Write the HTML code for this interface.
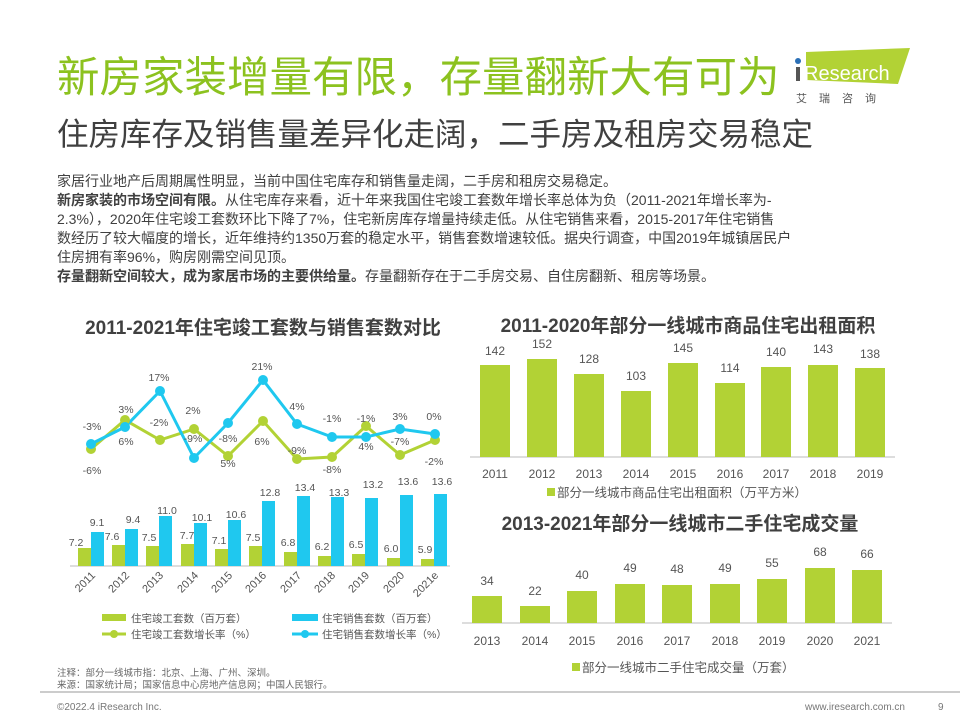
<!DOCTYPE html>
<html><head><meta charset="utf-8"><style>
body{margin:0;width:960px;height:720px;background:#fff;overflow:hidden}
svg{display:block;font-family:"Liberation Sans","Noto Sans CJK SC",sans-serif}
</style></head><body>
<svg width="960" height="720" viewBox="0 0 960 720" xmlns="http://www.w3.org/2000/svg">
<text x="57" y="92" font-size="42.5" fill="#8cc21f">新房家装增量有限，存量翻新大有可为</text>
<text x="57" y="145" font-size="31.5" fill="#404040">住房库存及销售量差异化走阔，二手房及租房交易稳定</text>
<!-- logo -->
<polygon points="806,52 910,48 898,84 806,80" fill="#b2d235"/>
<circle cx="798" cy="61" r="3" fill="#2a6fb6"/>
<rect x="796" y="67" width="4" height="14" fill="#555"/>
<text x="804" y="80" font-size="20" fill="#fff">Research</text>
<text x="796" y="102" font-size="11" fill="#555" letter-spacing="12">艾瑞咨询</text>
<!-- paragraph -->
<g font-size="14" fill="#404040">
<text x="57" y="186">家居行业地产后周期属性明显，当前中国住宅库存和销售量走阔，二手房和租房交易稳定。</text>
<text x="57" y="205"><tspan font-weight="bold">新房家装的市场空间有限。</tspan>从住宅库存来看，近十年来我国住宅竣工套数年增长率总体为负（2011-2021年增长率为-</text>
<text x="57" y="224">2.3%），2020年住宅竣工套数环比下降了7%，住宅新房库存增量持续走低。从住宅销售来看，2015-2017年住宅销售</text>
<text x="57" y="243">数经历了较大幅度的增长，近年维持约1350万套的稳定水平，销售套数增速较低。据央行调查，中国2019年城镇居民户</text>
<text x="57" y="262">住房拥有率96%，购房刚需空间见顶。</text>
<text x="57" y="281"><tspan font-weight="bold">存量翻新空间较大，成为家居市场的主要供给量。</tspan>存量翻新存在于二手房交易、自住房翻新、租房等场景。</text>
</g>
<!-- chart titles -->
<g font-size="19" font-weight="bold" fill="#404040" text-anchor="middle">
<text x="263" y="334">2011-2021年住宅竣工套数与销售套数对比</text>
<text x="688" y="332">2011-2020年部分一线城市商品住宅出租面积</text>
<text x="680" y="530">2013-2021年部分一线城市二手住宅成交量</text>
</g>
<!-- left chart bars -->
<line x1="70" y1="566" x2="450" y2="566" stroke="#bbb"/>
<g font-size="10.5" fill="#555" text-anchor="middle">
<rect x="78" y="548" width="13" height="18" fill="#b2d235"/><rect x="91" y="532" width="13" height="34" fill="#1fc8ef"/><text x="76" y="546">7.2</text><text x="97" y="526">9.1</text>
<rect x="112" y="545" width="13" height="21" fill="#b2d235"/><rect x="125" y="529" width="13" height="37" fill="#1fc8ef"/><text x="112" y="540">7.6</text><text x="133" y="523">9.4</text>
<rect x="146" y="546" width="13" height="20" fill="#b2d235"/><rect x="159" y="516" width="13" height="50" fill="#1fc8ef"/><text x="149" y="541">7.5</text><text x="167" y="514">11.0</text>
<rect x="181" y="544" width="13" height="22" fill="#b2d235"/><rect x="194" y="523" width="13" height="43" fill="#1fc8ef"/><text x="187" y="539">7.7</text><text x="202" y="521">10.1</text>
<rect x="215" y="549" width="13" height="17" fill="#b2d235"/><rect x="228" y="520" width="13" height="46" fill="#1fc8ef"/><text x="219" y="544">7.1</text><text x="236" y="518">10.6</text>
<rect x="249" y="546" width="13" height="20" fill="#b2d235"/><rect x="262" y="501" width="13" height="65" fill="#1fc8ef"/><text x="253" y="541">7.5</text><text x="270" y="496">12.8</text>
<rect x="284" y="552" width="13" height="14" fill="#b2d235"/><rect x="297" y="496" width="13" height="70" fill="#1fc8ef"/><text x="288" y="546">6.8</text><text x="305" y="491">13.4</text>
<rect x="318" y="556" width="13" height="10" fill="#b2d235"/><rect x="331" y="497" width="13" height="69" fill="#1fc8ef"/><text x="322" y="550">6.2</text><text x="339" y="496">13.3</text>
<rect x="352" y="554" width="13" height="12" fill="#b2d235"/><rect x="365" y="498" width="13" height="68" fill="#1fc8ef"/><text x="356" y="548">6.5</text><text x="373" y="488">13.2</text>
<rect x="387" y="558" width="13" height="8" fill="#b2d235"/><rect x="400" y="495" width="13" height="71" fill="#1fc8ef"/><text x="391" y="552">6.0</text><text x="408" y="485">13.6</text>
<rect x="421" y="559" width="13" height="7" fill="#b2d235"/><rect x="434" y="494" width="13" height="72" fill="#1fc8ef"/><text x="425" y="553">5.9</text><text x="442" y="485">13.6</text>
</g>
<!-- lines -->
<polyline fill="none" stroke="#b2d235" stroke-width="3" points="91,449 125,420 160,440 194,429 228,456 263,421 297,459 332,457 366,426 400,455 435,440"/>
<polyline fill="none" stroke="#1fc8ef" stroke-width="3" points="91,444 125,427 160,391 194,458 228,423 263,380 297,424 332,437 366,437 400,429 435,434"/>
<g fill="#b2d235"><circle cx="91" cy="449" r="5"/><circle cx="125" cy="420" r="5"/><circle cx="160" cy="440" r="5"/><circle cx="194" cy="429" r="5"/><circle cx="228" cy="456" r="5"/><circle cx="263" cy="421" r="5"/><circle cx="297" cy="459" r="5"/><circle cx="332" cy="457" r="5"/><circle cx="366" cy="426" r="5"/><circle cx="400" cy="455" r="5"/><circle cx="435" cy="440" r="5"/></g>
<g fill="#1fc8ef"><circle cx="91" cy="444" r="5"/><circle cx="125" cy="427" r="5"/><circle cx="160" cy="391" r="5"/><circle cx="194" cy="458" r="5"/><circle cx="228" cy="423" r="5"/><circle cx="263" cy="380" r="5"/><circle cx="297" cy="424" r="5"/><circle cx="332" cy="437" r="5"/><circle cx="366" cy="437" r="5"/><circle cx="400" cy="429" r="5"/><circle cx="435" cy="434" r="5"/></g>
<g font-size="10.5" fill="#555" text-anchor="middle">
<text x="92" y="430">-3%</text><text x="92" y="474">-6%</text>
<text x="126" y="413">3%</text><text x="126" y="445">6%</text>
<text x="159" y="381">17%</text><text x="159" y="426">-2%</text>
<text x="193" y="414">2%</text><text x="193" y="442">-9%</text>
<text x="228" y="442">-8%</text><text x="228" y="467">5%</text>
<text x="262" y="370">21%</text><text x="262" y="445">6%</text>
<text x="297" y="410">4%</text><text x="297" y="454">-9%</text>
<text x="332" y="422">-1%</text><text x="332" y="473">-8%</text>
<text x="366" y="422">-1%</text><text x="366" y="450">4%</text>
<text x="400" y="420">3%</text><text x="400" y="445">-7%</text>
<text x="434" y="420">0%</text><text x="434" y="465">-2%</text>
</g>
<g font-size="11" fill="#555" text-anchor="end">
<text transform="translate(96,576) rotate(-45)">2011</text>
<text transform="translate(130,576) rotate(-45)">2012</text>
<text transform="translate(164,576) rotate(-45)">2013</text>
<text transform="translate(199,576) rotate(-45)">2014</text>
<text transform="translate(233,576) rotate(-45)">2015</text>
<text transform="translate(267,576) rotate(-45)">2016</text>
<text transform="translate(302,576) rotate(-45)">2017</text>
<text transform="translate(336,576) rotate(-45)">2018</text>
<text transform="translate(370,576) rotate(-45)">2019</text>
<text transform="translate(405,576) rotate(-45)">2020</text>
<text transform="translate(439,576) rotate(-45)">2021e</text>
</g>
<g font-size="10.5" fill="#555">
<rect x="102" y="614" width="24" height="7" fill="#b2d235"/><text x="131" y="622">住宅竣工套数（百万套）</text>
<rect x="292" y="614" width="26" height="7" fill="#1fc8ef"/><text x="322" y="622">住宅销售套数（百万套）</text>
<line x1="102" y1="634" x2="126" y2="634" stroke="#b2d235" stroke-width="3"/><circle cx="114" cy="634" r="4" fill="#b2d235"/><text x="131" y="638">住宅竣工套数增长率（%）</text>
<line x1="292" y1="634" x2="318" y2="634" stroke="#1fc8ef" stroke-width="3"/><circle cx="305" cy="634" r="4" fill="#1fc8ef"/><text x="322" y="638">住宅销售套数增长率（%）</text>
</g>
<!-- top right chart -->
<line x1="470" y1="457" x2="895" y2="457" stroke="#bbb"/>
<g fill="#b2d235">
<rect x="480" y="365" width="30" height="92"/><rect x="527" y="359" width="30" height="98"/><rect x="574" y="374" width="30" height="83"/><rect x="621" y="391" width="30" height="66"/><rect x="668" y="363" width="30" height="94"/><rect x="715" y="383" width="30" height="74"/><rect x="761" y="367" width="30" height="90"/><rect x="808" y="365" width="30" height="92"/><rect x="855" y="368" width="30" height="89"/>
</g>
<g font-size="12" fill="#555" text-anchor="middle">
<text x="495" y="355">142</text><text x="542" y="348">152</text><text x="589" y="363">128</text><text x="636" y="380">103</text><text x="683" y="352">145</text><text x="730" y="372">114</text><text x="776" y="356">140</text><text x="823" y="353">143</text><text x="870" y="358">138</text>
<text x="495" y="478">2011</text><text x="542" y="478">2012</text><text x="589" y="478">2013</text><text x="636" y="478">2014</text><text x="683" y="478">2015</text><text x="730" y="478">2016</text><text x="776" y="478">2017</text><text x="823" y="478">2018</text><text x="870" y="478">2019</text>
</g>
<rect x="547" y="488" width="8" height="8" fill="#b2d235"/>
<text x="557" y="497" font-size="12.5" fill="#555">部分一线城市商品住宅出租面积（万平方米）</text>
<!-- bottom right chart -->
<line x1="462" y1="623" x2="892" y2="623" stroke="#bbb"/>
<g fill="#b2d235">
<rect x="472" y="596" width="30" height="27"/><rect x="520" y="606" width="30" height="17"/><rect x="567" y="591" width="30" height="32"/><rect x="615" y="584" width="30" height="39"/><rect x="662" y="585" width="30" height="38"/><rect x="710" y="584" width="30" height="39"/><rect x="757" y="579" width="30" height="44"/><rect x="805" y="568" width="30" height="55"/><rect x="852" y="570" width="30" height="53"/>
</g>
<g font-size="12" fill="#555" text-anchor="middle">
<text x="487" y="585">34</text><text x="535" y="595">22</text><text x="582" y="579">40</text><text x="630" y="572">49</text><text x="677" y="573">48</text><text x="725" y="572">49</text><text x="772" y="567">55</text><text x="820" y="556">68</text><text x="867" y="558">66</text>
<text x="487" y="645">2013</text><text x="535" y="645">2014</text><text x="582" y="645">2015</text><text x="630" y="645">2016</text><text x="677" y="645">2017</text><text x="725" y="645">2018</text><text x="772" y="645">2019</text><text x="820" y="645">2020</text><text x="867" y="645">2021</text>
</g>
<rect x="572" y="663" width="8" height="8" fill="#b2d235"/>
<text x="582" y="672" font-size="12.5" fill="#555">部分一线城市二手住宅成交量（万套）</text>
<!-- notes/footer -->
<g font-size="9.5" fill="#666">
<text x="57" y="676">注释：部分一线城市指：北京、上海、广州、深圳。</text>
<text x="57" y="688">来源：国家统计局；国家信息中心房地产信息网；中国人民银行。</text>
</g>
<line x1="40" y1="692" x2="960" y2="692" stroke="#bbb" stroke-width="1.5"/>
<g font-size="10" fill="#777">
<text x="57" y="710">©2022.4 iResearch Inc.</text>
<text x="905" y="710" text-anchor="end">www.iresearch.com.cn</text>
<text x="938" y="710">9</text>
</g>
</svg>
</body></html>
